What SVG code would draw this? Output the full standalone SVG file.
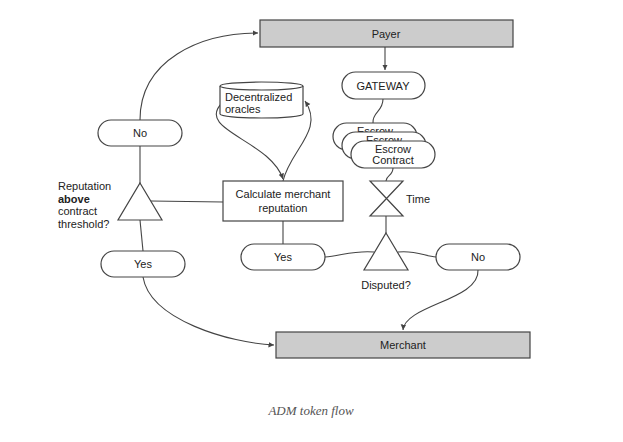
<svg xmlns="http://www.w3.org/2000/svg" width="623" height="442" viewBox="0 0 623 442">
<style>
.s{fill:#fff;stroke:#444;stroke-width:1.2}
.g{fill:#ccc;stroke:#444;stroke-width:1.2}
.c{fill:none;stroke:#444;stroke-width:1.1}
text{font-family:"Liberation Sans",Arial,sans-serif;font-size:11px;fill:#222}
.m{text-anchor:middle}
</style>
<defs><marker id="a" markerWidth="6" markerHeight="6" refX="5" refY="3" orient="auto"><path d="M0,0.5 L5,3 L0,5.5Z" fill="#444"/></marker></defs>
<rect width="623" height="442" fill="#fff"/>
<g id="connectors">
<path class="c" d="M140,120 C140,60 200,33 258,33" marker-end="url(#a)"/>
<path class="c" d="M140,146 L140,185"/>
<path class="c" d="M151,201 L223,202"/>
<path class="c" d="M140,220 L143,251"/>
<path class="c" d="M143,277 C150,320 230,343 274,345" marker-end="url(#a)"/>
<path class="c" d="M222,103 C195,130 270,140 283,179" marker-end="url(#a)"/>
<path class="c" d="M283,181 C290,150 325,130 305,101" marker-end="url(#a)"/>
<path class="c" d="M283,221 L283,244"/>
<path class="c" d="M385,47 L385,70" marker-end="url(#a)"/>
<path class="c" d="M383,99 C383,112 372,112 373,123"/>
<path class="c" d="M393,168 C393,176 386,175 386,181"/>
<path class="c" d="M386,216 L386,233"/>
<path class="c" d="M374,252 C355,250 340,256 325,257"/>
<path class="c" d="M398,252 C415,250 425,256 436,257"/>
<path class="c" d="M478,270 C480,300 405,305 403,330" marker-end="url(#a)"/>
</g>
<g id="payer"><rect class="g" x="260" y="20" width="253" height="27"/><text class="m" x="386" y="38">Payer</text></g>
<g id="merchant"><rect class="g" x="276" y="332" width="254" height="26"/><text class="m" x="403" y="349">Merchant</text></g>
<g id="gateway"><rect class="s" x="342" y="72" width="83" height="27" rx="13.5"/><text class="m" x="383" y="90">GATEWAY</text></g>
<g id="escrow">
<rect class="s" x="333" y="123" width="84" height="27" rx="13.5"/><text class="m" x="375" y="135">Escrow</text>
<rect class="s" x="342" y="132" width="84" height="27" rx="13.5"/><text class="m" x="384" y="144">Escrow</text>
<rect class="s" x="351" y="141" width="84" height="27" rx="13.5"/><text class="m" x="393" y="153">Escrow</text><text class="m" x="393" y="164">Contract</text>
</g>
<g id="time"><path class="s" d="M370,181 L403,181 L370,216 L403,216 Z"/><text x="406" y="203">Time</text></g>
<g id="disputed"><path class="s" d="M386,233 L408,270 L364,270 Z"/><text class="m" x="386" y="289">Disputed?</text></g>
<g id="yes2"><rect class="s" x="241" y="244" width="84" height="26" rx="13"/><text class="m" x="283" y="261">Yes</text></g>
<g id="no2"><rect class="s" x="436" y="244" width="84" height="26" rx="13"/><text class="m" x="478" y="261">No</text></g>
<g id="calc"><rect class="s" x="223" y="181" width="120" height="40"/><text class="m" x="283" y="198">Calculate merchant</text><text class="m" x="283" y="212">reputation</text></g>
<g id="oracles"><path class="s" d="M220,86 L220,114 A41.5,4 0 0 0 303,114 L303,86"/><ellipse class="s" cx="261.5" cy="86" rx="41.5" ry="4"/><text x="225" y="101">Decentralized</text><text x="225" y="113">oracles</text></g>
<g id="no1"><rect class="s" x="98" y="120" width="84" height="26" rx="13"/><text class="m" x="140" y="137">No</text></g>
<g id="reputation"><path class="s" d="M140,183 L162,220 L118,220 Z"/><text x="58" y="190">Reputation</text><text x="58" y="203" font-weight="bold">above</text><text x="58" y="215">contract</text><text x="58" y="228">threshold?</text></g>
<g id="yes1"><rect class="s" x="101" y="251" width="84" height="26" rx="13"/><text class="m" x="143" y="268">Yes</text></g>
<text class="m" x="311" y="415" style="font-family:'Liberation Serif',serif;font-style:italic;font-size:13px;fill:#555">ADM token flow</text>
</svg>
